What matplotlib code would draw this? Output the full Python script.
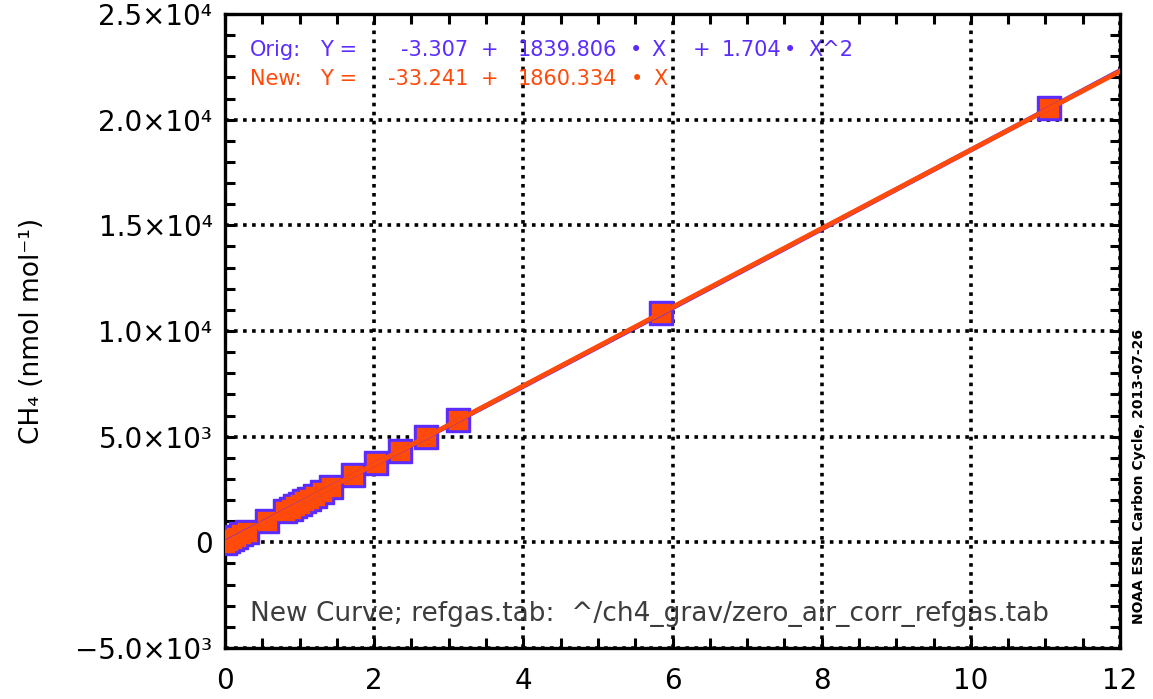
import matplotlib
matplotlib.use("Agg")
import matplotlib.pyplot as plt
from matplotlib.ticker import MultipleLocator, FixedLocator, FixedFormatter
import numpy as np

# data
x_data = [0.0, 0.04, 0.09, 0.15, 0.22, 0.29, 0.56, 0.80, 0.88, 0.94, 1.00, 1.06,
          1.12, 1.20, 1.30, 1.42, 1.72, 2.03, 2.35, 2.70, 3.12, 5.85, 11.05]
y_data = [-20, 50, 140, 250, 380, 510, 1020, 1460, 1600, 1720, 1830, 1940,
          2050, 2200, 2390, 2610, 3170, 3750, 4340, 4990, 5770, 10850, 20530]

orig_coef = [-3.307, 1839.806, 1.704]   # c0 + c1*X + c2*X^2
new_coef = [-33.241, 1860.334]          # c0 + c1*X

y_ticks = [-5000, 0, 5000, 10000, 15000, 20000, 25000]
y_tick_labels = ['−5.0×10³', '0', '5.0×10³', '1.0×10⁴', '1.5×10⁴', '2.0×10⁴', '2.5×10⁴']
x_ticks = [0, 2, 4, 6, 8, 10, 12]

BLUE = '#5a2cff'
ORANGE = '#ff4a0a'
W, H = 1153, 699

plt.rcParams['font.family'] = ['DejaVu Sans']
fig = plt.figure(figsize=(W / 100, H / 100), dpi=100)
ax = fig.add_axes([225 / W, 1 - 648 / H, 895 / W, 634 / H])

xx = np.linspace(0, 12, 200)
y_orig = orig_coef[0] + orig_coef[1] * xx + orig_coef[2] * xx ** 2
y_new = new_coef[0] + new_coef[1] * xx

ax.plot(x_data, y_data, ls='none', marker='s', ms=17.5, mfc=BLUE, mec=BLUE, zorder=3)
ax.plot(x_data, y_data, ls='none', marker='s', ms=12, mfc=ORANGE, mec=ORANGE,
        mew=2.4, zorder=4)
ax.plot(xx, y_orig, color=BLUE, lw=3.5, zorder=4.5)
ax.plot(xx, y_new, color=ORANGE, lw=3.5, zorder=5)

ax.set_xlim(0, 12)
ax.set_ylim(-5000, 25000)
ax.xaxis.set_major_locator(FixedLocator(x_ticks))
ax.xaxis.set_minor_locator(MultipleLocator(0.5))
ax.yaxis.set_major_locator(FixedLocator(y_ticks))
ax.yaxis.set_major_formatter(FixedFormatter(y_tick_labels))
ax.yaxis.set_minor_locator(MultipleLocator(1000))

ax.grid(True, which='major', color='black', lw=2.6, linestyle=(0, (1, 1.5)))
ax.tick_params(which='both', direction='in', top=True, right=True, width=2.2,
               labelsize=20, length=7)
ax.tick_params(axis='x', pad=14)
ax.tick_params(axis='y', pad=9)
for sp in ax.spines.values():
    sp.set_linewidth(2.4)

ax.set_ylabel('CH₄ (nmol mol⁻¹)', fontsize=19, labelpad=22)

# fit equations, laid out in columns like the original
def put(px, py, s, color, ha='left'):
    fig.text(px / W, 1 - py / H, s, color=color, fontsize=15, ha=ha, va='center')

put(250, 50, 'Orig:', BLUE)
put(320, 50, 'Y =', BLUE)
put(468, 50, '%.3f' % orig_coef[0], BLUE, 'right')
put(490, 50, '+', BLUE, 'center')
put(617, 50, '%.3f' % orig_coef[1], BLUE, 'right')
put(636, 50, '•', BLUE, 'center')
put(659, 50, 'X', BLUE, 'center')
put(702, 50, '+', BLUE, 'center')
put(722, 50, '%.3f' % orig_coef[2], BLUE)
put(790, 50, '•', BLUE, 'center')
put(808, 50, 'X^2', BLUE)

put(250, 79, 'New:', ORANGE)
put(320, 79, 'Y =', ORANGE)
put(468, 79, '%.3f' % new_coef[0], ORANGE, 'right')
put(490, 79, '+', ORANGE, 'center')
put(617, 79, '%.3f' % new_coef[1], ORANGE, 'right')
put(637, 79, '•', ORANGE, 'center')
put(660, 79, 'X', ORANGE, 'center')

fig.text(250 / W, 1 - 614 / H, 'New Curve; refgas.tab:  ^/ch4_grav/zero_air_corr_refgas.tab',
         color='#3c3c3c', fontsize=19, ha='left', va='center')
fig.text(1139 / W, 1 - 477 / H, 'NOAA ESRL Carbon Cycle, 2013-07-26', rotation=90,
         fontsize=10, fontweight='bold', ha='center', va='center')

fig.savefig('out.png', dpi=100)
